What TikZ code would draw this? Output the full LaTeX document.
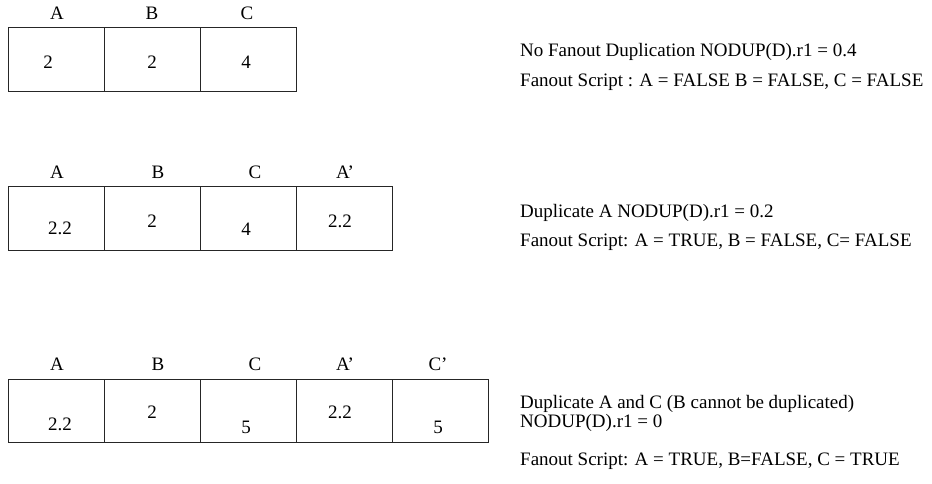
\documentclass[tikz,border=0pt]{standalone}
\usepackage{fontspec}
\setmainfont{Liberation Serif}
\usetikzlibrary{positioning}

\begin{document}
\begin{tikzpicture}[
    x=1pt, y=-1pt,
    every node/.style={font=\fontsize{19}{22}\selectfont},
    cell/.style={rectangle, draw=black!85, line width=0.8pt, minimum width=96pt,
                 minimum height=64pt, inner sep=0pt, outer sep=0pt},
    lbl/.style={anchor=base, inner sep=0pt},
    note/.style={anchor=base west, inner sep=0pt}
]
\useasboundingbox (0,0) rectangle (932,483);

% Row 1: no duplication
\node[cell] (a1) at (56,59) {};
\node[cell, right=0pt of a1] (b1) {};
\node[cell, right=0pt of b1] (c1) {};

\node[lbl] (ha1) at (57,19)  {A};
\node[lbl] (hb1) at (152,19) {B};
\node[lbl] (hc1) at (247,19) {C};

\node[lbl] (va1) at (48,68)  {2};
\node[lbl] (vb1) at (152,68) {2};
\node[lbl] (vc1) at (246,68) {4};

\node[note] (n1a) at (520,56) {No Fanout Duplication NODUP(D).r1 = 0.4};
\node[note] (n1b) at (520,86) {Fanout Script : A = FALSE B = FALSE, C = FALSE};

% Row 2: duplicate A
\node[cell] (a2) at (56,218) {};
\node[cell, right=0pt of a2] (b2) {};
\node[cell, right=0pt of b2] (c2) {};
\node[cell, right=0pt of c2] (d2) {};

\node[lbl] (ha2) at (57,178)  {A};
\node[lbl] (hb2) at (158,178) {B};
\node[lbl] (hc2) at (255,178) {C};
\node[lbl] (hd2) at (345,178) {A’};

\node[lbl] (va2) at (60,234)  {2.2};
\node[lbl] (vb2) at (152,227) {2};
\node[lbl] (vc2) at (246,235) {4};
\node[lbl] (vd2) at (340,227) {2.2};

\node[note] (n2a) at (520,217) {Duplicate A NODUP(D).r1 = 0.2};
\node[note] (n2b) at (520,246) {Fanout Script: A = TRUE, B = FALSE, C= FALSE};

% Row 3: duplicate A and C
\node[cell, minimum height=63pt] (a3) at (56,410.5) {};
\node[cell, minimum height=63pt, right=0pt of a3] (b3) {};
\node[cell, minimum height=63pt, right=0pt of b3] (c3) {};
\node[cell, minimum height=63pt, right=0pt of c3] (d3) {};
\node[cell, minimum height=63pt, right=0pt of d3] (e3) {};

\node[lbl] (ha3) at (57,370)  {A};
\node[lbl] (hb3) at (158,370) {B};
\node[lbl] (hc3) at (255,370) {C};
\node[lbl] (hd3) at (345,370) {A’};
\node[lbl] (he3) at (438,370) {C’};

\node[lbl] (va3) at (60,430)  {2.2};
\node[lbl] (vb3) at (152,418) {2};
\node[lbl] (vc3) at (246,433) {5};
\node[lbl] (vd3) at (340,418) {2.2};
\node[lbl] (ve3) at (438,433) {5};

\node[note] (n3a) at (520,408) {Duplicate A and C (B cannot be duplicated)};
\node[note] (n3b) at (520,427) {NODUP(D).r1 = 0};
\node[note] (n3c) at (520,465) {Fanout Script: A = TRUE, B=FALSE, C = TRUE};

\end{tikzpicture}
\end{document}
